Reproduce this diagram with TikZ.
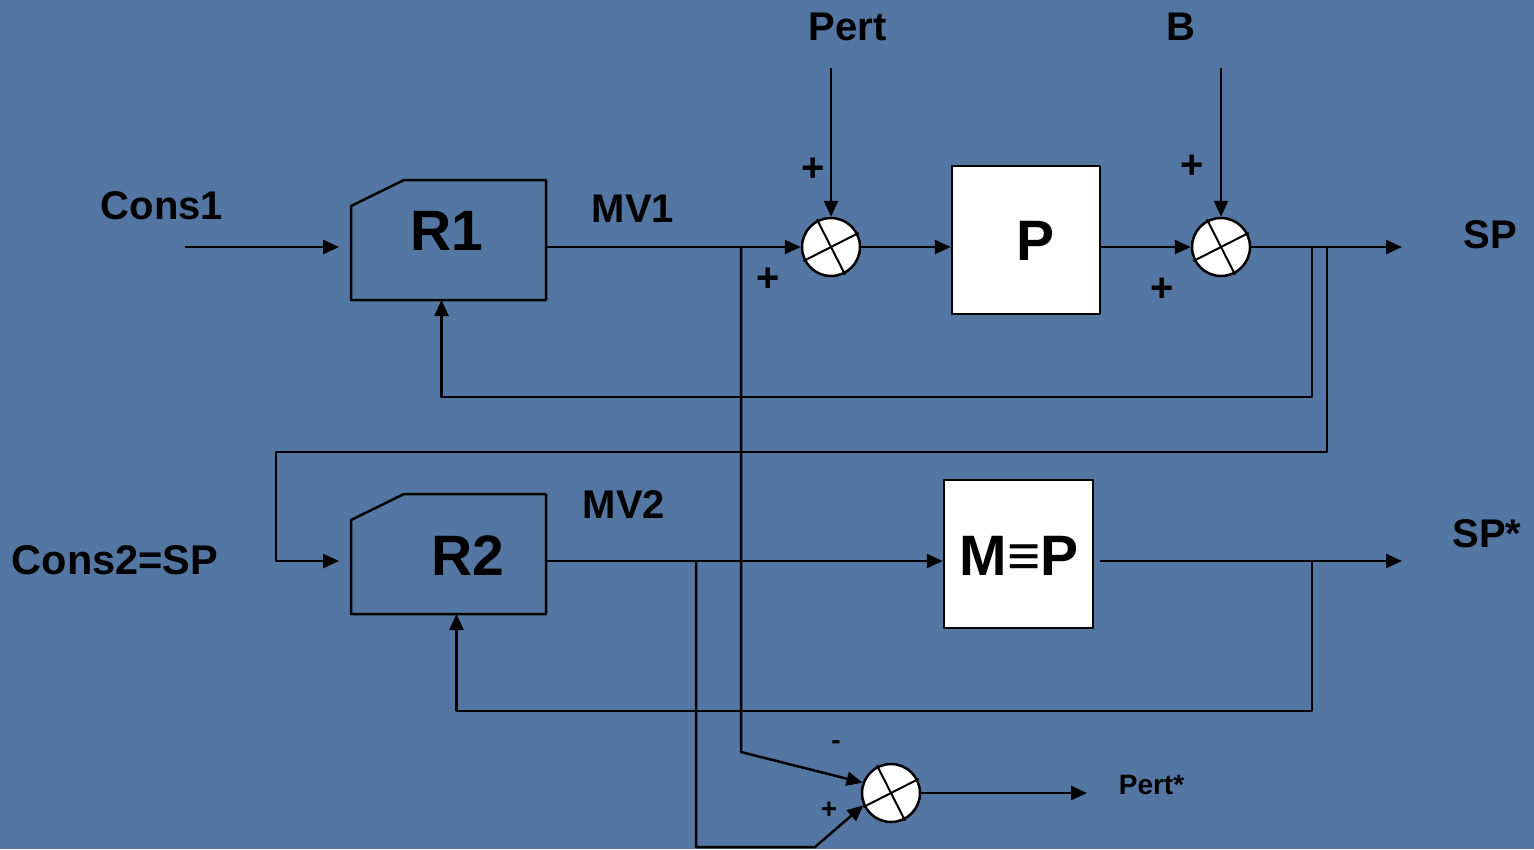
\documentclass[tikz,border=0pt]{standalone}
\usepackage{fontspec}
\setmainfont{Liberation Sans}
\usetikzlibrary{arrows.meta}
\definecolor{slide}{RGB}{84,118,162}

\begin{document}
\begin{tikzpicture}[x=1pt,y=-1pt,line join=round,line width=2.5pt,
  >={Triangle[length=16pt,width=14pt]},
  txt/.style={inner sep=0pt,font=\fontsize{40}{44}\selectfont\bfseries},
  big/.style={inner sep=0pt,font=\fontsize{57}{60}\selectfont\bfseries},
  small/.style={inner sep=0pt,font=\fontsize{28}{30}\selectfont\bfseries},
  blk/.style={draw,fill=white,minimum width=148pt,minimum height=148pt,inner sep=0pt},
  ctrl/.style={minimum width=195pt,minimum height=120pt,inner sep=0pt,outer sep=0pt},
  sum/.style={circle,draw,fill=white,minimum size=58pt,inner sep=0pt}]
  % slide background
  \fill[slide] (0,0) rectangle (1534,849);
  % blocks
  \node[ctrl] (R1) at (448.5,240) {};
  \node[ctrl] (R2) at (448.5,554) {};
  \foreach \r in {R1,R2}
    \draw ([yshift=-26pt]\r.north west) -- ([xshift=53pt]\r.north west)
      -- (\r.north east) -- (\r.south east) -- (\r.south west) -- cycle;
  \node[big] at (447,231) {R1};
  \node[big] at (468,556) {R2};
  \node[blk] (P) at (1026,240) {};
  \node[big] at (1035,241) {P};
  \node[blk,minimum width=149pt] (M) at (1018.5,554) {};
  \node[big] at (1019,556) {M≡P};
  % summing points
  \node[sum] (S1) at (831,247) {};
  \node[sum] (S2) at (1221,247) {};
  \node[sum] (S3) at (891,793) {};
  \foreach \s in {S1,S2,S3}{
    \draw[line width=2pt] ([shift={(117:31pt)}]\s.center) -- ([shift={(-63:31pt)}]\s.center);
    \draw[line width=2pt] ([shift={(27:31pt)}]\s.center) -- ([shift={(207:31pt)}]\s.center);
  }
  % labels
  \node[txt] (cons1) at (162,205.5) {Cons1};
  \node[txt,font=\fontsize{41.5}{44}\selectfont\bfseries] (cons2) at (115,560) {Cons2=SP};
  \node[txt] (mv1) at (633,209) {MV1};
  \node[txt] (mv2) at (624,505) {MV2};
  \node[txt] (pertl) at (847.5,26.5) {Pert};
  \node[txt] (bl) at (1181,27) {B};
  \node[txt] (sp) at (1490,234.5) {SP};
  \node[txt] (spstar) at (1487,534) {SP*};
  \node[small] (pertstar) at (1151.5,785) {Pert*};
  \node[txt] at (813,170) {+};
  \node[txt] at (768,280) {+};
  \node[txt] at (1192,167) {+};
  \node[txt] at (1162,290) {+};
  \node[small] at (836,745) {-};
  \node[small] at (829,810) {+};
  % free ends and branch points
  \coordinate (in1) at (185,247);
  \coordinate (pert) at (831,68);
  \coordinate (bin) at (1221,68);
  \coordinate (j1) at (741,247);
  \coordinate (fb1) at (1312,247);
  \coordinate (fb2) at (1327,247);
  \coordinate (out1) at (1402,247);
  \coordinate (bend) at (276,452);
  \coordinate (j2) at (696,561);
  \coordinate (mo) at (1100,561);
  \coordinate (fb3) at (1312,561);
  \coordinate (out2) at (1402,561);
  \coordinate (k1) at (741,752);
  \coordinate (k2) at (696,847);
  \coordinate (k3) at (815,847);
  \coordinate (out3) at (1087,793);
  % first loop
  \draw[->,shorten >=12pt] (in1) -- (R1.west |- in1);
  \draw[->] (R1.east |- j1) -- (S1);
  \draw[->] (pert) -- (S1);
  \draw[->] (S1) -- (S1 -| P.west);
  \draw[->] (P.east |- S2) -- (S2);
  \draw[->] (bin) -- (S2);
  \draw[->] (S2) -- (out1);
  \draw[->] (fb1) -- ++(0,150) -| ([xshift=-7pt]R1.south);
  % second loop
  \draw[->,shorten >=12pt] (fb2) |- (bend) |- (R2.west |- j2);
  \draw[->] (R2.east |- j2) -- (M.west |- j2);
  \draw[->] (mo) -- (out2);
  \draw[->] (fb3) -- ++(0,150) -| ([xshift=8pt]R2.south);
  % disturbance estimate
  \draw[->] (j1) -- (k1) -- (S3.160);
  \draw[->] (j2) -- (k2) -- (k3) -- (S3.204);
  \draw[->] (S3) -- (out3);
\end{tikzpicture}
\end{document}
